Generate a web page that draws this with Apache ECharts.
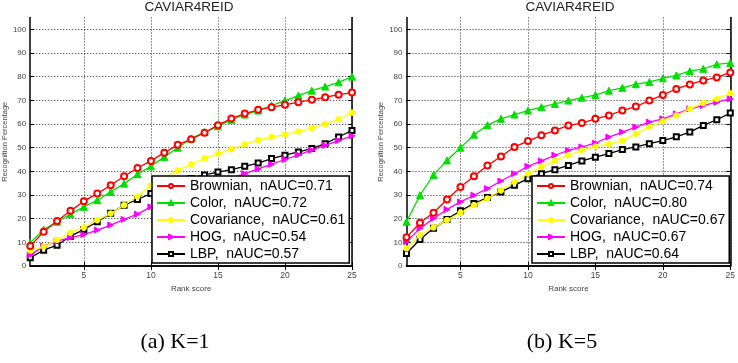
<!DOCTYPE html>
<html>
<head>
<meta charset="utf-8">
<script src="https://cdn.jsdelivr.net/npm/echarts@6/dist/echarts.min.js"></script>
<style>html,body{margin:0;padding:0;background:#fff;}#c{width:738px;height:363px;}</style>
</head>
<body>
<div id="c"></div>
<script>
// ---- data ----
var ranks = [1,2,3,4,5,6,7,8,9,10,11,12,13,14,15,16,17,18,19,20,21,22,23,24,25];
var xTicks = [5,10,15,20,25];
var yTicks = [0,10,20,30,40,50,60,70,80,90,100];
var chartTitle = 'CAVIAR4REID';
var captions = ['(a) K=1', '(b) K=5'];
var xName = 'Rank score';
var yName = 'Recognition Percentage';

var namesK1 = ['Brownian,  nAUC=0.71','Color,  nAUC=0.72','Covariance,  nAUC=0.61','HOG,  nAUC=0.54','LBP,  nAUC=0.57'];
var brownianK1 = [8.4,14.5,19,23.3,27.4,30.6,34.1,37.9,41.4,44.4,47.9,51.2,53.6,56.3,59.5,62.3,64.4,66,67.1,68.1,69.2,70.2,71.3,72.4,73.3];
var colorK1 = [9.8,15.4,18.7,21.9,25,27.8,31.3,34.8,38.8,42.1,46.1,50,53.8,56.6,59,61.8,64,65.7,67.8,69.9,72,74.1,75.8,77.6,80];
var covK1 = [6.5,8.1,11,14,16.3,19.4,22.2,25.7,29.5,34,37,40.4,43,45.5,47.5,49.3,51.4,53.2,54.5,55.5,56.8,58.3,60,62,64.8];
var hogK1 = [4.6,8.4,10.5,12,13.3,15.2,17.3,19.7,21.9,25,27,29,31,33,35,37,39,41,43,45,47,49,51,53,55];
var lbpK1 = [3.5,6.7,8.8,12.6,15.4,18.7,22.3,25.7,28.1,30.6,33,35,37,38.5,39.7,40.7,42.1,43.5,45.4,46.8,48.2,49.6,51.7,54.5,57.3];

var namesK5 = ['Brownian,  nAUC=0.74','Color,  nAUC=0.80','Covariance,  nAUC=0.67','HOG,  nAUC=0.67','LBP,  nAUC=0.64'];
var brownianK5 = [12.1,18.3,22.5,28.1,33.4,37.9,42.5,46.3,50.3,52.8,55.2,57.3,59.4,60.4,62.2,63.6,65.7,67.4,69.9,72.3,74.8,76.7,78.4,79.7,81.8];
var colorK5 = [18.7,29.9,38.5,44.6,50,55.5,59.5,62.2,64,65.7,67.1,68.5,69.9,71.1,72.2,74.1,75.3,76.8,77.7,79.3,80.5,82.3,83.3,85.2,85.8];
var covK5 = [7.4,13,16.3,19.4,22.5,25.7,28.5,32,35.5,39,41.8,44.5,46.8,48.9,50.5,51.5,53,55.9,58.7,61.2,63.6,66.4,68.8,70.6,73];
var hogK5 = [10.3,15.9,20.1,23.9,27.1,29.9,32.7,35.9,39,42.1,44.4,46.8,48.9,50.3,51.9,54.5,56.6,58.7,60.8,62.2,64.3,66.4,67.8,69.2,70.6];
var lbpK5 = [5.3,11.2,15.9,19.7,23.3,26.4,28.9,31.3,34.1,36.9,39,40.7,42.5,44.4,46,47.5,49.2,50.3,51.7,53,54.6,56.6,59.4,61.8,64.6];

// ---- styles ----
var colors = ['#ff0000','#00e000','#ffff00','#ff00ff','#000000'];
var symbols = ['emptyCircle','triangle','circle','path://M0,0 L10,5 L0,10 Z','emptyRect'];
var symSizes = [6,7,5.5,6,5];
var FONT = 'Liberation Sans';

var chart = echarts.init(document.getElementById('c'), null, {renderer:'canvas'});

var grids = [
  {left:26, top:17.5, width:326, height:248.5},
  {left:406.5, top:17.5, width:327, height:248.5}
];

function pairs(arr){ return ranks.map(function(r,i){ return [r, arr[i]]; }); }

var xAxes = [], yAxes = [], series = [], legends = [];
var dataSets = [
  {names:namesK1, vals:[brownianK1,colorK1,covK1,hogK1,lbpK1], legendLeft:152},
  {names:namesK5, vals:[brownianK5,colorK5,covK5,hogK5,lbpK5], legendLeft:532}
];

var lineAxis = {show:true, lineStyle:{color:'#000', width:1.5}};
var gridLine = {show:true, lineStyle:{color:'#111', width:0.9, type:[1,2]}};

for (var g=0; g<2; g++){
  xAxes.push({
    type:'value', gridIndex:g, min:1, max:25, position:'bottom',
    axisLine:lineAxis,
    axisTick:{show:true, inside:true, length:4, customValues:xTicks, lineStyle:{color:'#000'}},
    axisLabel:{customValues:xTicks, fontSize:8.5, color:'#444', fontFamily:FONT, margin:5},
    splitLine:gridLine,
    name:xName, nameLocation:'middle', nameGap:16,
    nameTextStyle:{fontSize:8, color:'#444', fontFamily:FONT}
  });
  xAxes.push({
    type:'value', gridIndex:g, min:1, max:25, position:'top',
    axisLine:lineAxis,
    axisTick:{show:true, inside:true, length:4, customValues:xTicks, lineStyle:{color:'#000'}},
    axisLabel:{show:false}, splitLine:{show:false}
  });
  yAxes.push({
    type:'value', gridIndex:g, min:0, max:105, position:'left',
    axisLine:lineAxis,
    axisTick:{show:true, inside:true, length:4, customValues:yTicks, lineStyle:{color:'#000'}},
    axisLabel:{customValues:yTicks, fontSize:8, color:'#444', fontFamily:FONT, margin:4},
    splitLine:gridLine,
    name:yName, nameLocation:'middle', nameGap:18,
    nameTextStyle:{fontSize:7.5, color:'#444', fontFamily:FONT}
  });
  yAxes.push({
    type:'value', gridIndex:g, min:0, max:105, position:'right',
    axisLine:lineAxis,
    axisTick:{show:true, inside:true, length:4, customValues:yTicks, lineStyle:{color:'#000'}},
    axisLabel:{show:false}, splitLine:{show:false}
  });
  var ds = dataSets[g];
  for (var s=0; s<5; s++){
    series.push({
      type:'line', name:ds.names[s], xAxisIndex:g*2, yAxisIndex:g*2,
      data:pairs(ds.vals[s]),
      symbol:symbols[s], symbolSize:symSizes[s], showAllSymbol:true,
      lineStyle:{color:colors[s], width:1.3},
      itemStyle:{color:colors[s], borderColor:colors[s], borderWidth:1},
      emphasis:{disabled:true}, animation:false, z: 10 - s
    });
  }
  legends.push({
    data:ds.names, orient:'vertical', left:ds.legendLeft, top:176,
    itemWidth:28, itemHeight:5, itemGap:3, padding:[3,4,2,4],
    backgroundColor:'#fff', borderColor:'#000', borderWidth:1.5,
    textStyle:{fontSize:14, color:'#000', fontFamily:FONT},
    selectedMode:false, z:20
  });
}

var graphics = [
  {type:'text', x:189, y:7, style:{text:chartTitle, font:'13.5px "Liberation Sans"', fill:'#222', align:'center', verticalAlign:'middle'}},
  {type:'text', x:570, y:7, style:{text:chartTitle, font:'13.5px "Liberation Sans"', fill:'#222', align:'center', verticalAlign:'middle'}},
  {type:'text', x:175, y:342, style:{text:captions[0], font:'22px "Liberation Serif"', fill:'#000', align:'center', verticalAlign:'middle'}},
  {type:'text', x:562, y:342, style:{text:captions[1], font:'22px "Liberation Serif"', fill:'#000', align:'center', verticalAlign:'middle'}}
];

chart.setOption({
  animation:false,
  backgroundColor:'#fff',
  grid:grids,
  xAxis:xAxes, yAxis:yAxes,
  legend:legends,
  series:series,
  graphic:graphics
});
</script>
</body>
</html>
